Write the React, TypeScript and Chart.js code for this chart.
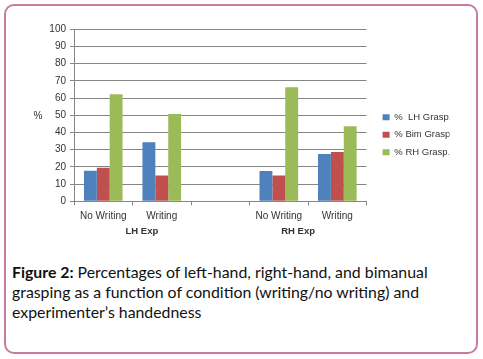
import React, { useEffect, useRef } from "react";
import { Chart, registerables } from "chart.js";

Chart.register(...registerables);

const categories = ["No Writing", "Writing", "", "No Writing", "Writing"];
const groupLabels = ["LH Exp", "RH Exp"];
const seriesNames = ["%  LH Grasp.", "% Bim Grasp.", "% RH Grasp."];
const lhGrasp = [17.7, 34.4, null, 17.6, 27.5];
const bimGrasp = [19.5, 15.0, null, 15.0, 28.6];
const rhGrasp = [62.3, 50.7, null, 66.3, 43.7];
const yMin = 0;
const yMax = 100;
const yStep = 10;

const colors = ["#4f81bd", "#c0504d", "#9bbb59"];
const FONT = '"Liberation Sans", Arial, sans-serif';
const TEXT = "#333333";
const GRID = "#868686";
const groupCenters = [0.66, 3.33];

const annotPlugin = {
  id: "annot",
  afterDraw(chart: any) {
    const { ctx, chartArea, scales } = chart;
    ctx.save();
    ctx.fillStyle = TEXT;
    ctx.textAlign = "center";
    ctx.textBaseline = "middle";
    ctx.font = `10px ${FONT}`;
    ctx.fillText("%", chartArea.left - 36, (chartArea.top + chartArea.bottom) / 2 + 1);
    ctx.font = `bold 9.5px ${FONT}`;
    groupLabels.forEach((g, i) => {
      ctx.fillText(g, scales.x.getPixelForValue(groupCenters[i]), chartArea.bottom + 30);
    });
    ctx.restore();
  },
};

export default function App() {
  const ref = useRef<HTMLCanvasElement>(null);
  useEffect(() => {
    if (!ref.current) return;
    const datasets = [lhGrasp, bimGrasp, rhGrasp].map((d, i) => ({
      label: seriesNames[i],
      data: d,
      backgroundColor: colors[i],
      borderWidth: 0,
      categoryPercentage: 0.66,
      barPercentage: 1,
    }));
    const chart = new Chart(ref.current, {
      type: "bar",
      data: { labels: categories, datasets },
      options: {
        responsive: false,
        animation: false,
        layout: { padding: { top: 29.3, left: 0, right: 33.5, bottom: 0 } },
        plugins: {
          tooltip: { enabled: false },
          legend: {
            position: "right",
            align: "center",
            labels: {
              boxWidth: 7,
              boxHeight: 6,
              padding: 8,
              color: TEXT,
              font: { family: FONT, size: 9.5 },
            },
          },
        },
        scales: {
          x: {
            grid: { display: true, drawOnChartArea: false, drawTicks: true, tickLength: 4, color: GRID, offset: true },
            border: { display: true, color: GRID },
            ticks: { color: TEXT, font: { family: FONT, size: 10 }, padding: 5, maxRotation: 0, autoSkip: false },
            afterFit: (s: any) => { s.height = 38.7; },
          },
          y: {
            min: yMin,
            max: yMax,
            ticks: { stepSize: yStep, color: TEXT, font: { family: FONT, size: 10 }, padding: 4 },
            grid: { color: GRID, tickLength: 4 },
            border: { display: true, color: GRID },
            afterFit: (s: any) => { s.width = 74; },
          },
          yR: {
            type: "linear",
            position: "right",
            display: true,
            grid: { display: false, drawTicks: false },
            ticks: { display: false },
            border: { display: false },
            afterFit: (s: any) => { s.width = 8; },
          },
        },
      },
      plugins: [annotPlugin],
    } as any);
    return () => chart.destroy();
  }, []);

  return (
    <div style={{ position: "absolute", left: 0, top: 0, width: 483, height: 359, background: "#fff" }}>
      <div
        style={{
          position: "absolute",
          left: 4,
          top: 4,
          width: 474,
          height: 350,
          boxSizing: "border-box",
          border: "2px solid #c77ba0",
          borderRadius: 10,
        }}
      />
      <canvas ref={ref} width={483} height={240} style={{ position: "absolute", left: 0, top: 0 }} />
      <div
        style={{
          position: "absolute",
          left: 12,
          top: 261.5,
          fontFamily: "Lato, sans-serif",
          fontSize: 15.85,
          lineHeight: "20px",
          color: "#111",
          whiteSpace: "nowrap",
        }}
      >
        <b>Figure 2:</b> Percentages of left-hand, right-hand, and bimanual
        <br />
        grasping as a function of condition (writing/no writing) and
        <br />
        experimenter’s handedness
      </div>
    </div>
  );
}
